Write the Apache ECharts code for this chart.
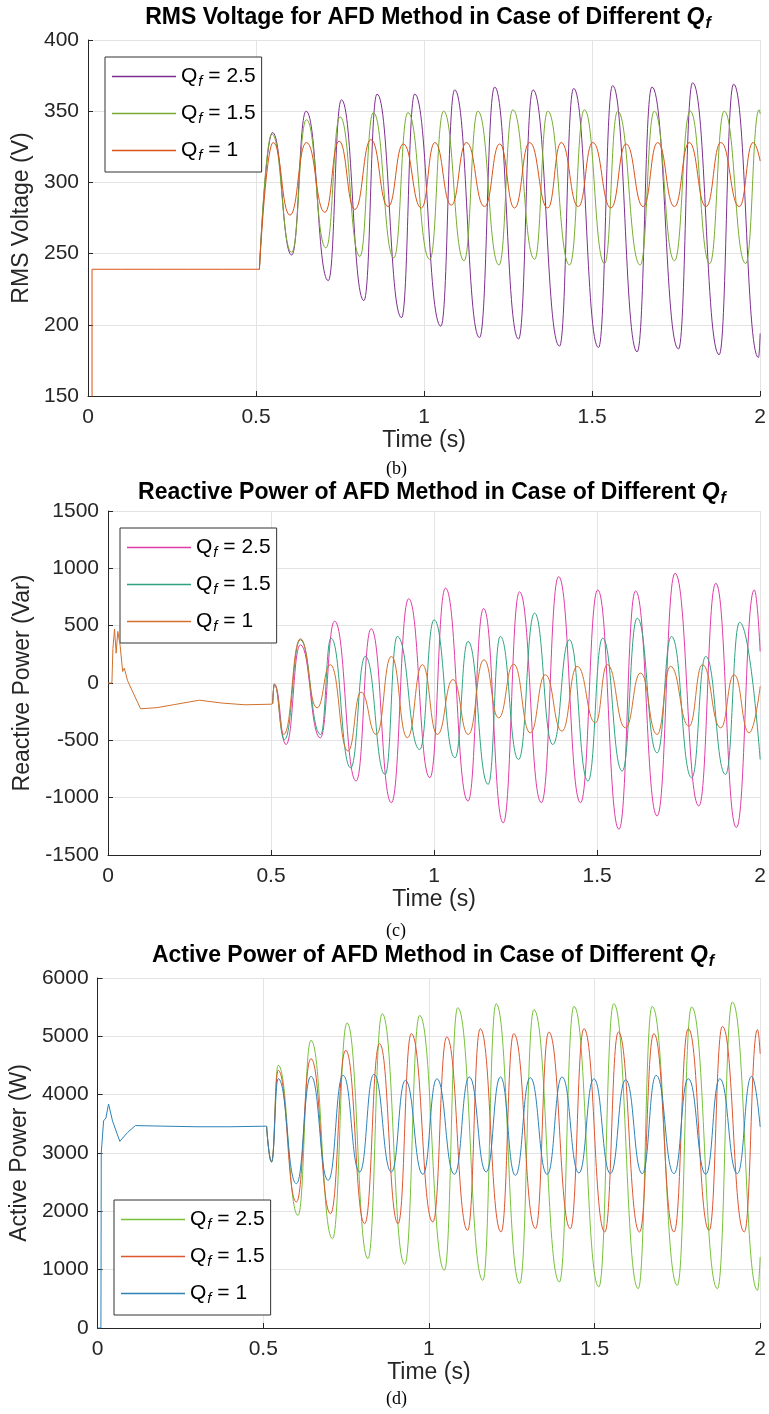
<!DOCTYPE html>
<html><head><meta charset="utf-8">
<script src="https://cdn.jsdelivr.net/npm/echarts@6/dist/echarts.min.js"></script>
<style>html,body{margin:0;padding:0;background:#fff}#c{width:769px;height:1414px}</style>
</head><body><div id="c"></div>
<script>
// ---------- tick labels / categories ----------
const xTicks = [0, 0.5, 1, 1.5, 2];
const legendLabels = ['2.5', '1.5', '1'];
const panelLabels = ['(b)', '(c)', '(d)'];
const titles = [
  'RMS Voltage for AFD Method in Case of Different ',
  'Reactive Power of AFD Method in Case of Different ',
  'Active Power of AFD Method in Case of Different '
];
const yNames = ['RMS Voltage (V)', 'Reactive Power (Var)', 'Active Power (W)'];

// ---------- (b) RMS voltage [t (s), V] ----------
const rmsStart = [[0,0],[0.012,0],[0.012,239],[0.1,239],[0.2,239],[0.3,239],[0.4,239],[0.51,239]];
const rmsQ25 = [[0.51,239],[0.549,335],[0.606,249],[0.649,350],[0.715,231],[0.754,358],[0.821,217],[0.860,362],[0.933,205],[0.972,362],[1.050,199],[1.091,365],[1.165,191],[1.210,367],[1.281,190],[1.324,365],[1.403,185],[1.445,366],[1.519,184],[1.561,368],[1.634,181],[1.678,367],[1.757,183],[1.799,370],[1.878,179],[1.921,369],[1.995,177],[2.0,194]];
const rmsQ15 = [[0.51,239],[0.547,334],[0.606,251],[0.650,344],[0.708,254],[0.750,346],[0.809,248],[0.849,349],[0.910,247],[0.952,349],[1.017,246],[1.058,350],[1.119,245],[1.160,350],[1.223,242],[1.264,351],[1.329,246],[1.368,350],[1.433,242],[1.477,351],[1.537,243],[1.576,350],[1.643,242],[1.685,350],[1.745,245],[1.792,350],[1.850,243],[1.893,350],[1.957,243],[1.997,351],[2.0,348]];
const rmsQ1 = [[0.51,239],[0.551,328],[0.601,277],[0.650,328],[0.705,279],[0.747,329],[0.794,281],[0.842,330],[0.893,283],[0.938,327],[0.992,282],[1.032,328],[1.081,284],[1.126,328],[1.180,283],[1.225,327],[1.269,282],[1.314,328],[1.368,282],[1.408,328],[1.459,283],[1.502,328],[1.556,282],[1.601,327],[1.652,283],[1.695,328],[1.745,283],[1.789,328],[1.839,283],[1.883,328],[1.938,283],[1.979,328],[2.0,315]];

// ---------- (c) Reactive power [t (s), Var] ----------
const reactStart = [[0,0],[0.012,0],[0.015,300],[0.02,470],[0.025,260],[0.03,450],[0.037,330],[0.045,100],[0.05,130],[0.06,20],[0.1,-225],[0.15,-215],[0.2,-190],[0.28,-150],[0.35,-175],[0.42,-190],[0.5,-185],[0.505,-180]];
const reactQ25 = [[0.505,-180],[0.51,-10],[0.546,-536],[0.590,333],[0.651,-478],[0.695,539],[0.761,-855],[0.807,473],[0.869,-1044],[0.922,735],[0.987,-826],[1.035,828],[1.104,-1030],[1.152,650],[1.212,-1220],[1.262,795],[1.329,-1044],[1.382,928],[1.449,-1044],[1.502,812],[1.567,-1276],[1.618,803],[1.684,-1160],[1.739,957],[1.812,-1073],[1.864,870],[1.927,-1261],[1.982,812],[2.0,275]];
const reactQ15 = [[0.505,-180],[0.51,-10],[0.541,-493],[0.590,377],[0.652,-449],[0.684,391],[0.744,-739],[0.789,232],[0.850,-797],[0.887,406],[0.956,-580],[1.0,551],[1.064,-652],[1.104,362],[1.166,-884],[1.203,406],[1.259,-667],[1.308,609],[1.364,-536],[1.415,377],[1.472,-855],[1.517,391],[1.577,-768],[1.623,565],[1.684,-609],[1.728,406],[1.79,-826],[1.833,232],[1.894,-797],[1.937,530],[2.0,-667]];
const reactQ1 = [[0.505,-180],[0.51,-10],[0.539,-449],[0.590,386],[0.641,-217],[0.682,160],[0.736,-594],[0.776,-80],[0.823,-449],[0.869,232],[0.918,-478],[0.964,160],[1.01,-449],[1.058,30],[1.105,-449],[1.153,203],[1.198,-304],[1.244,165],[1.295,-435],[1.341,72],[1.392,-420],[1.439,145],[1.495,-348],[1.531,160],[1.587,-391],[1.633,87],[1.684,-449],[1.725,145],[1.782,-377],[1.823,160],[1.879,-391],[1.92,72],[1.966,-435],[2.0,-29]];

// ---------- (d) Active power [t (s), W] ----------
const actStart = [[0,0],[0.010,0],[0.011,3000],[0.018,3550],[0.025,3600],[0.033,3840],[0.045,3550],[0.067,3200],[0.09,3350],[0.114,3470],[0.2,3460],[0.3,3450],[0.4,3450],[0.51,3460]];
const actQ25 = [[0.51,3460],[0.525,2846],[0.545,4503],[0.605,1931],[0.644,4931],[0.709,1531],[0.753,5229],[0.816,1189],[0.859,5389],[0.927,1091],[0.972,5360],[1.047,989],[1.087,5491],[1.163,817],[1.203,5560],[1.274,760],[1.317,5457],[1.394,789],[1.438,5514],[1.513,703],[1.558,5560],[1.632,674],[1.674,5514],[1.75,731],[1.793,5503],[1.871,674],[1.916,5589],[1.992,646],[2.0,1217]];
const actQ15 = [[0.51,3460],[0.525,2846],[0.545,4417],[0.600,2160],[0.644,4617],[0.703,1960],[0.749,4760],[0.806,1789],[0.851,4874],[0.907,1789],[0.947,5046],[1.012,1817],[1.054,4989],[1.117,1674],[1.155,5131],[1.218,1646],[1.256,5046],[1.322,1703],[1.362,5074],[1.427,1703],[1.468,5131],[1.531,1646],[1.572,5074],[1.636,1646],[1.679,5046],[1.74,1646],[1.783,5131],[1.846,1674],[1.886,5171],[1.952,1646],[1.992,5114],[2.0,4700]];
const actQ1 = [[0.51,3460],[0.525,2846],[0.545,4274],[0.600,2474],[0.644,4314],[0.696,2531],[0.741,4331],[0.791,2674],[0.834,4349],[0.887,2674],[0.929,4246],[0.982,2634],[1.024,4274],[1.077,2634],[1.122,4303],[1.173,2674],[1.216,4303],[1.261,2617],[1.306,4291],[1.357,2634],[1.402,4303],[1.453,2657],[1.498,4274],[1.548,2646],[1.594,4257],[1.644,2646],[1.686,4331],[1.74,2646],[1.783,4274],[1.836,2634],[1.878,4274],[1.931,2646],[1.974,4314],[2.0,3446]];

// ---------- layout / styles ----------
const FONT = 'Liberation Sans, Arial, sans-serif';
const AX = '#262626';
const panels = [
  { grid:{left:88,right:8,top:40,height:356}, y:{min:150,max:400,interval:50}, nameGap:52, xGap:31,
    titleX:428, titleTop:5, legend:{left:105,top:57}, lbl:470,
    start:rmsStart, data:[rmsQ25,rmsQ15,rmsQ1], colors:['#7E2F8E','#77AC30','#D95319'], key:'rms' },
  { grid:{left:108,right:8,top:511,height:344}, y:{min:-1500,max:1500,interval:500}, nameGap:72, xGap:33,
    titleX:432, titleTop:480, legend:{left:120,top:528}, lbl:932,
    start:reactStart, data:[reactQ25,reactQ15,reactQ1], colors:['#E03CA6','#2FA37F','#D2702C'], key:'react' },
  { grid:{left:97,right:8,top:978,height:350}, y:{min:0,max:6000,interval:1000}, nameGap:61, xGap:32,
    titleX:433, titleTop:943, legend:{left:114,top:1200}, lbl:1400,
    start:actStart, data:[actQ25,actQ15,actQ1], colors:['#77C13A','#DE5530','#2C82B8'], key:'act' }
];

const richQ = {
  a:{fontFamily:FONT,fontSize:23,fontWeight:'bold',color:'#000',lineHeight:26},
  q:{fontFamily:FONT,fontSize:23,fontWeight:'bold',fontStyle:'italic',color:'#000',lineHeight:26},
  f:{fontFamily:FONT,fontSize:16,fontWeight:'bold',fontStyle:'italic',color:'#000',lineHeight:20,padding:[12,0,0,1]}
};
const legRich = {
  q:{fontFamily:FONT,fontSize:21,color:'#000',lineHeight:24},
  f:{fontFamily:FONT,fontSize:15,fontStyle:'italic',color:'#000',lineHeight:18,padding:[10,0,0,1]},
  n:{fontFamily:FONT,fontSize:21,color:'#000',lineHeight:24}
};
const plain = (v) => String(v);

const option = {animation:false, title:[], legend:[], grid:[], xAxis:[], yAxis:[], series:[], graphic:[]};

panels.forEach((p, i) => {
  option.grid.push(Object.assign({containLabel:false}, p.grid));
  option.title.push({
    text:'{a|' + titles[i] + '}{q|Q}{f|f}',
    left:p.titleX, top:p.titleTop, textAlign:'center', padding:0,
    textStyle:{rich:richQ}
  });
  option.xAxis.push({
    gridIndex:i, type:'value', min:xTicks[0], max:xTicks[xTicks.length-1], interval:0.5,
    name:'Time (s)', nameLocation:'middle', nameGap:p.xGap,
    nameTextStyle:{fontFamily:FONT,fontSize:23,color:AX},
    axisLine:{onZero:false,lineStyle:{color:AX,width:1}},
    axisTick:{inside:true,length:5,lineStyle:{color:AX}},
    axisLabel:{fontFamily:FONT,fontSize:21,color:AX,margin:11,formatter:plain},
    splitLine:{show:true,lineStyle:{color:'#e3e3e3',width:1}}
  });
  option.yAxis.push({
    gridIndex:i, type:'value', min:p.y.min, max:p.y.max, interval:p.y.interval,
    name:yNames[i], nameLocation:'middle', nameGap:p.nameGap,
    nameTextStyle:{fontFamily:FONT,fontSize:23,color:AX},
    axisLine:{show:true,onZero:false,lineStyle:{color:AX,width:1}},
    axisTick:{show:true,inside:true,length:5,lineStyle:{color:AX}},
    axisLabel:{fontFamily:FONT,fontSize:21,color:AX,margin:9,formatter:plain},
    splitLine:{show:true,lineStyle:{color:'#e3e3e3',width:1}}
  });
  const names = legendLabels.map((l, k) => p.key + k);
  option.legend.push({
    orient:'vertical', left:p.legend.left, top:p.legend.top,
    data:names.map((n, k) => ({name:n, itemStyle:{color:p.colors[k], borderWidth:0}})),
    icon:'rect', itemWidth:64, itemHeight:1.5, itemGap:12,
    itemStyle:{borderWidth:0},
    backgroundColor:'#fff', borderColor:'#333', borderWidth:1, padding:[7,6,9,7],
    selectedMode:false,
    formatter:(name) => '{q|Q}{f|f}{n| = ' + legendLabels[names.indexOf(name)] + '}',
    textStyle:{rich:legRich}
  });
  option.series.push({
    type:'line', name:p.key + 'Start', xAxisIndex:i, yAxisIndex:i, data:p.start,
    symbol:'none', lineStyle:{width:1,color:p.colors[2]}, itemStyle:{color:p.colors[2]}, z:5
  });
  p.data.forEach((d, k) => {
    option.series.push({
      type:'line', name:names[k], xAxisIndex:i, yAxisIndex:i, data:d,
      symbol:'none', smooth:0.5, smoothMonotone:'x',
      lineStyle:{width:1,color:p.colors[k]}, itemStyle:{color:p.colors[k]}, z:2+k
    });
  });
  option.graphic.push({
    type:'text', left:386, top:p.lbl - 10,
    style:{text:panelLabels[i], font:'18px "Liberation Serif", serif', fill:'#000'}
  });
});

const chart = echarts.init(document.getElementById('c'), null, {renderer:'canvas'});
chart.setOption(option);
</script></body></html>
